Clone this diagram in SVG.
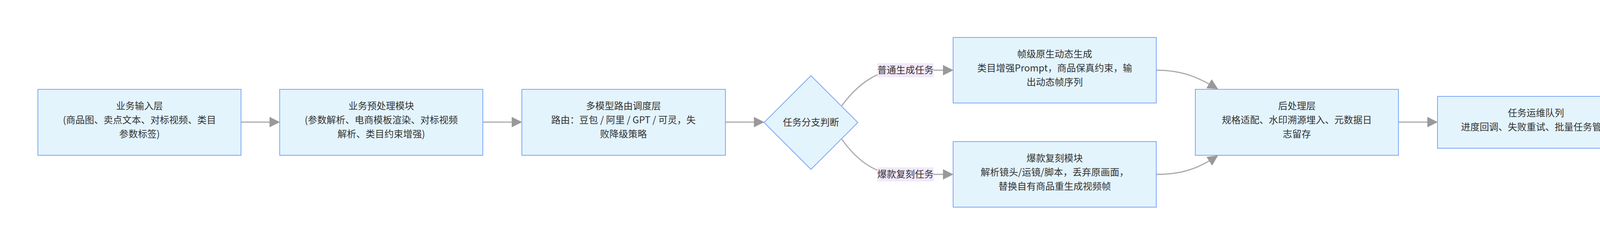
<svg xmlns="http://www.w3.org/2000/svg" width="4870" height="628" viewBox="0 0 4870 628">
<style>
.n rect,.n polygon{fill:#e3f4fd;stroke:#7ba7f5;stroke-width:2}
text{font-family:"Noto Sans CJK SC","Liberation Sans",sans-serif;font-size:24px;fill:#333;text-anchor:middle}
.e{fill:none;stroke:#aaa;stroke-width:3}
.lb{fill:#f1e8fb}
</style>
<defs><marker id="a" viewBox="0 0 10 10" refX="9" refY="5" markerWidth="8" markerHeight="8" markerUnits="userSpaceOnUse" orient="auto"><path d="M0,0L10,5L0,10z" fill="#999"/></marker>
<marker id="ab" viewBox="0 0 10 10" refX="9" refY="5" markerWidth="9" markerHeight="9" orient="auto"><path d="M0,0L10,5L0,10z" fill="#999"/></marker></defs>
<rect width="4870" height="628" fill="#fff"/>
<g id="edges">
<path class="e" d="M617,313H714" marker-end="url(#ab)"/>
<path class="e" d="M1236,313H1334" marker-end="url(#ab)"/>
<path class="e" d="M1857,313H1954" marker-end="url(#ab)"/>
<path class="e" d="M2155,271C2200,210 2250,180 2300,180H2438" marker-end="url(#ab)"/>
<path class="e" d="M2155,357C2200,420 2250,447 2300,447H2438" marker-end="url(#ab)"/>
<path class="e" d="M2960,180C3030,180 3070,200 3116,227" marker-end="url(#ab)"/>
<path class="e" d="M2960,447C3030,447 3070,430 3116,400" marker-end="url(#ab)"/>
<path class="e" d="M3580,313H3678" marker-end="url(#ab)"/>
<path class="e" d="M4184,313H4281" marker-end="url(#ab)"/>
<rect class="lb" x="2246" y="162" width="144" height="36"/><text x="2318" y="188">普通生成任务</text>
<rect class="lb" x="2246" y="429" width="144" height="36"/><text x="2318" y="455">爆款复刻任务</text>
</g>
<g id="n1" class="n"><rect x="97" y="229" width="520" height="169"/><text x="357" y="280">业务输入层</text><text x="357" y="316">(商品图、卖点文本、对标视频、类目</text><text x="357" y="352">参数标签)</text></g>
<g id="n2" class="n"><rect x="716" y="229" width="520" height="169"/><text x="976" y="280">业务预处理模块</text><text x="976" y="316">(参数解析、电商模板渲染、对标视频</text><text x="976" y="352">解析、类目约束增强)</text></g>
<g id="n3" class="n"><rect x="1336" y="229" width="521" height="169"/><text x="1596" y="280">多模型路由调度层</text><text x="1596" y="316">路由：豆包 / 阿里 / GPT / 可灵，失</text><text x="1596" y="352">败降级策略</text></g>
<g id="n4" class="n"><polygon points="2076,194 2196,314 2076,434 1956,314"/><text x="2076" y="322">任务分支判断</text></g>
<g id="n5" class="n"><rect x="2440" y="96" width="520" height="168"/><text x="2700" y="147">帧级原生动态生成</text><text x="2700" y="183">类目增强Prompt，商品保真约束，输</text><text x="2700" y="219">出动态帧序列</text></g>
<g id="n6" class="n"><rect x="2440" y="363" width="520" height="168"/><text x="2700" y="414">爆款复刻模块</text><text x="2700" y="450">解析镜头/运镜/脚本，丢弃原画面，</text><text x="2700" y="486">替换自有商品重生成视频帧</text></g>
<g id="n7" class="n"><rect x="3060" y="229" width="520" height="169"/><text x="3320" y="280">后处理层</text><text x="3320" y="316">规格适配、水印溯源埋入、元数据日</text><text x="3320" y="352">志留存</text></g>
<g id="n8" class="n"><rect x="3680" y="247" width="504" height="133"/><text x="3932" y="298">任务运维队列</text><text x="3932" y="334">进度回调、失败重试、批量任务管理</text></g>
<g id="n9" class="n"><rect x="4283" y="247" width="492" height="133"/><text x="4529" y="298">输出层</text><text x="4529" y="334">跨境多规格素材下载，对外API能力</text></g>
</svg>
